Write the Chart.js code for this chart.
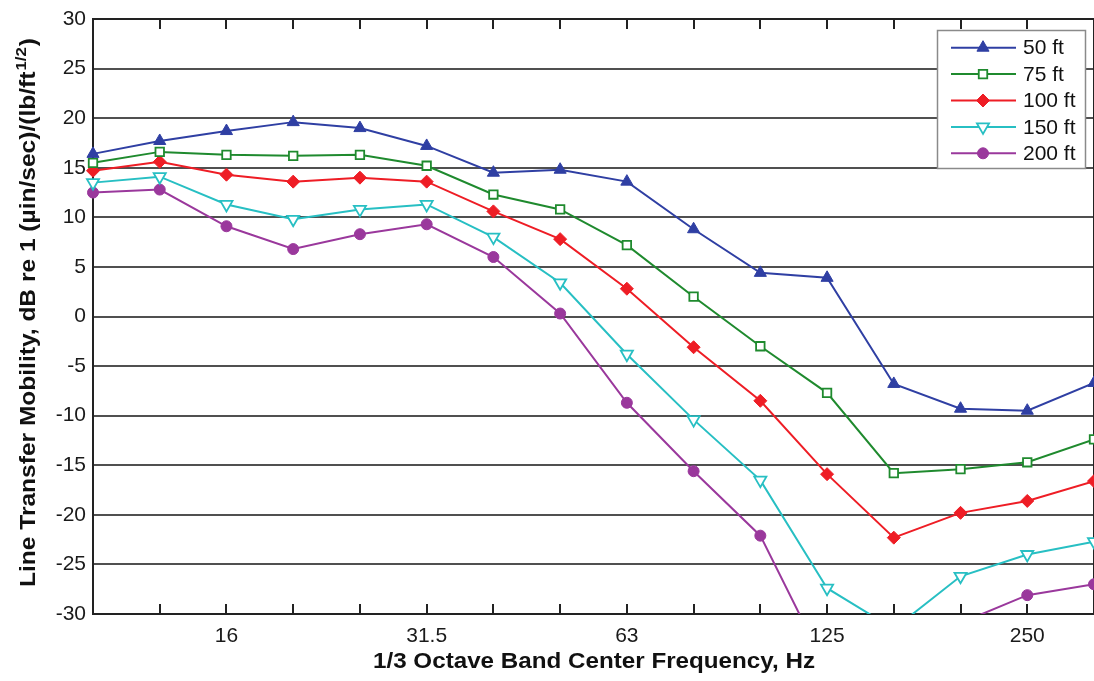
<!DOCTYPE html>
<html>
<head>
<meta charset="utf-8">
<script src="https://cdn.jsdelivr.net/npm/chart.js@4.4.1/dist/chart.umd.min.js"></script>
<style>
  html, body { margin: 0; padding: 0; overflow: hidden; background: #fff; }
  canvas { display: block; }
</style>
</head>
<body>
<canvas id="mobility" width="1094" height="681"></canvas>
<script>
// 1/3 octave band centres, Hz
const bands = ["10", "12.5", "16", "20", "25", "31.5", "40", "50", "63", "80", "100", "125", "160", "200", "250", "315"];
const labelledBands = ["16", "31.5", "63", "125", "250"];

// line transfer mobility, dB re 1 (uin/sec)/(lb/ft^1/2)
const ft50 = [16.4, 17.7, 18.7, 19.6, 19.0, 17.2, 14.5, 14.8, 13.6, 8.8, 4.4, 3.9, -6.8, -9.3, -9.5, -6.7];
const ft75 = [15.5, 16.6, 16.3, 16.2, 16.3, 15.2, 12.3, 10.8, 7.2, 2.0, -3.0, -7.7, -15.8, -15.4, -14.7, -12.4];
const ft100 = [14.7, 15.6, 14.3, 13.6, 14.0, 13.6, 10.6, 7.8, 2.8, -3.1, -8.5, -15.9, -22.3, -19.8, -18.6, -16.6];
const ft150 = [13.5, 14.1, 11.3, 9.8, 10.8, 11.3, 8.0, 3.4, -3.8, -10.4, -16.5, -27.4, -31.5, -26.2, -24.0, -22.7];
const ft200 = [12.5, 12.8, 9.1, 6.8, 8.3, 9.3, 6.0, 0.3, -8.7, -15.6, -22.1, -35.6, -36.0, -30.9, -28.1, -27.0];

const FONT = '"Liberation Sans", Arial, Helvetica, sans-serif';
Chart.defaults.font.family = FONT;

function series(label, data, color, style, open, radius, rotation) {
  return {
    label: label,
    data: data,
    borderColor: color,
    backgroundColor: color,
    borderWidth: 2,
    pointStyle: style,
    pointRadius: radius,
    pointRotation: rotation || 0,
    pointBorderColor: color,
    pointBackgroundColor: open ? "#fff" : color,
    pointBorderWidth: open ? 1.8 : 1,
    tension: 0,
    fill: false,
    clip: { left: 10, right: 10, top: 0, bottom: 0 }
  };
}

const datasets = [
  series("50 ft", ft50, "#2f3fa3", "triangle", false, 7),
  series("75 ft", ft75, "#1f8a2e", "rect", true, 6),
  series("100 ft", ft100, "#ee1d25", "rectRot", false, 6.5),
  series("150 ft", ft150, "#27bfc3", "triangle", true, 7, 180),
  series("200 ft", ft200, "#9a389c", "circle", false, 5.5)
];

// frame, inward tick marks, axis titles and the boxed legend
const decorations = {
  id: "decorations",
  beforeDatasetsDraw(chart) {
    const { ctx, chartArea: a, scales: { x } } = chart;
    ctx.save();
    ctx.strokeStyle = "#222";
    ctx.lineWidth = 2;
    ctx.beginPath();
    ctx.moveTo(a.left, a.top);
    ctx.lineTo(a.right, a.top);
    ctx.lineTo(a.right, a.bottom);
    for (let i = 1; i < bands.length - 1; i++) {
      const px = Math.round(x.getPixelForValue(i));
      ctx.moveTo(px, a.top);
      ctx.lineTo(px, a.top + 10);
      ctx.moveTo(px, a.bottom);
      ctx.lineTo(px, a.bottom - 10);
    }
    ctx.stroke();
    ctx.restore();
  },
  afterDraw(chart) {
    const { ctx } = chart;
    ctx.save();
    ctx.fillStyle = "#111";

    // x title
    ctx.font = "bold 22px " + FONT;
    const xt = "1/3 Octave Band Center Frequency, Hz";
    const xs = 442 / ctx.measureText(xt).width;
    ctx.save();
    ctx.translate(594, 668);
    ctx.scale(xs, 1);
    ctx.textAlign = "center";
    ctx.textBaseline = "alphabetic";
    ctx.fillText(xt, 0, 0);
    ctx.restore();

    // y title with superscript exponent
    const main = "Line Transfer Mobility, dB re 1 (\u00b5in/sec)/(lb/ft";
    const sup = "1/2";
    const close = ")";
    ctx.font = "bold 22px " + FONT;
    const wMain = ctx.measureText(main).width;
    const wClose = ctx.measureText(close).width;
    ctx.font = "bold 15px " + FONT;
    const wSup = ctx.measureText(sup).width;
    const ys = 549 / (wMain + wSup + wClose + 2);
    ctx.save();
    ctx.translate(35, 587);
    ctx.rotate(-Math.PI / 2);
    ctx.scale(ys, 1);
    ctx.textAlign = "left";
    ctx.textBaseline = "alphabetic";
    ctx.font = "bold 22px " + FONT;
    ctx.fillText(main, 0, 0);
    ctx.font = "bold 15px " + FONT;
    ctx.fillText(sup, wMain + 1, -9);
    ctx.font = "bold 22px " + FONT;
    ctx.fillText(close, wMain + wSup + 2, 0);
    ctx.restore();

    // legend
    ctx.fillStyle = "#fff";
    ctx.fillRect(937, 30, 149, 139);
    ctx.strokeStyle = "#8a8a8a";
    ctx.lineWidth = 1.5;
    ctx.strokeRect(937.5, 30.5, 148, 138);
    datasets.forEach((ds, i) => {
      const y = 47.7 + i * 26.4;
      ctx.strokeStyle = ds.borderColor;
      ctx.lineWidth = 2;
      ctx.beginPath();
      ctx.moveTo(951, y);
      ctx.lineTo(1016, y);
      ctx.stroke();
      ctx.fillStyle = ds.pointBackgroundColor;
      ctx.lineWidth = ds.pointBorderWidth;
      Chart.helpers.drawPoint(ctx, {
        pointStyle: ds.pointStyle,
        rotation: ds.pointRotation,
        radius: ds.pointRadius,
        borderWidth: ds.pointBorderWidth
      }, 983, y);
      ctx.fillStyle = "#111";
      ctx.font = "21px " + FONT;
      ctx.textAlign = "left";
      ctx.textBaseline = "middle";
      ctx.fillText(ds.label, 1023, y + 1);
    });
    ctx.restore();
  }
};

new Chart(document.getElementById("mobility").getContext("2d"), {
  type: "line",
  data: { labels: bands, datasets: datasets },
  options: {
    responsive: false,
    animation: false,
    events: [],
    layout: { autoPadding: false, padding: { top: 19, right: 0, left: 0, bottom: 0 } },
    plugins: { legend: { display: false }, tooltip: { enabled: false } },
    scales: {
      x: {
        type: "category",
        offset: false,
        grid: { display: false, drawTicks: false },
        border: { display: true, color: "#222", width: 2 },
        ticks: {
          autoSkip: false,
          maxRotation: 0,
          padding: 10,
          color: "#1a1a1a",
          font: { size: 21 },
          callback: (v, i) => (labelledBands.includes(bands[i]) ? bands[i] : "")
        },
        afterFit: (s) => {
          s.height = 67;
          s.paddingLeft = 0;
          s.paddingRight = 0;
        }
      },
      y: {
        min: -30,
        max: 30,
        ticks: { stepSize: 5, padding: 7, color: "#1a1a1a", font: { size: 21 } },
        grid: { color: "#505050", lineWidth: 2, drawTicks: false },
        border: { display: true, color: "#222", width: 2 },
        afterFit: (s) => {
          s.width = 93;
          s.paddingTop = 0;
          s.paddingBottom = 0;
        }
      }
    }
  },
  plugins: [decorations]
});
</script>
</body>
</html>
